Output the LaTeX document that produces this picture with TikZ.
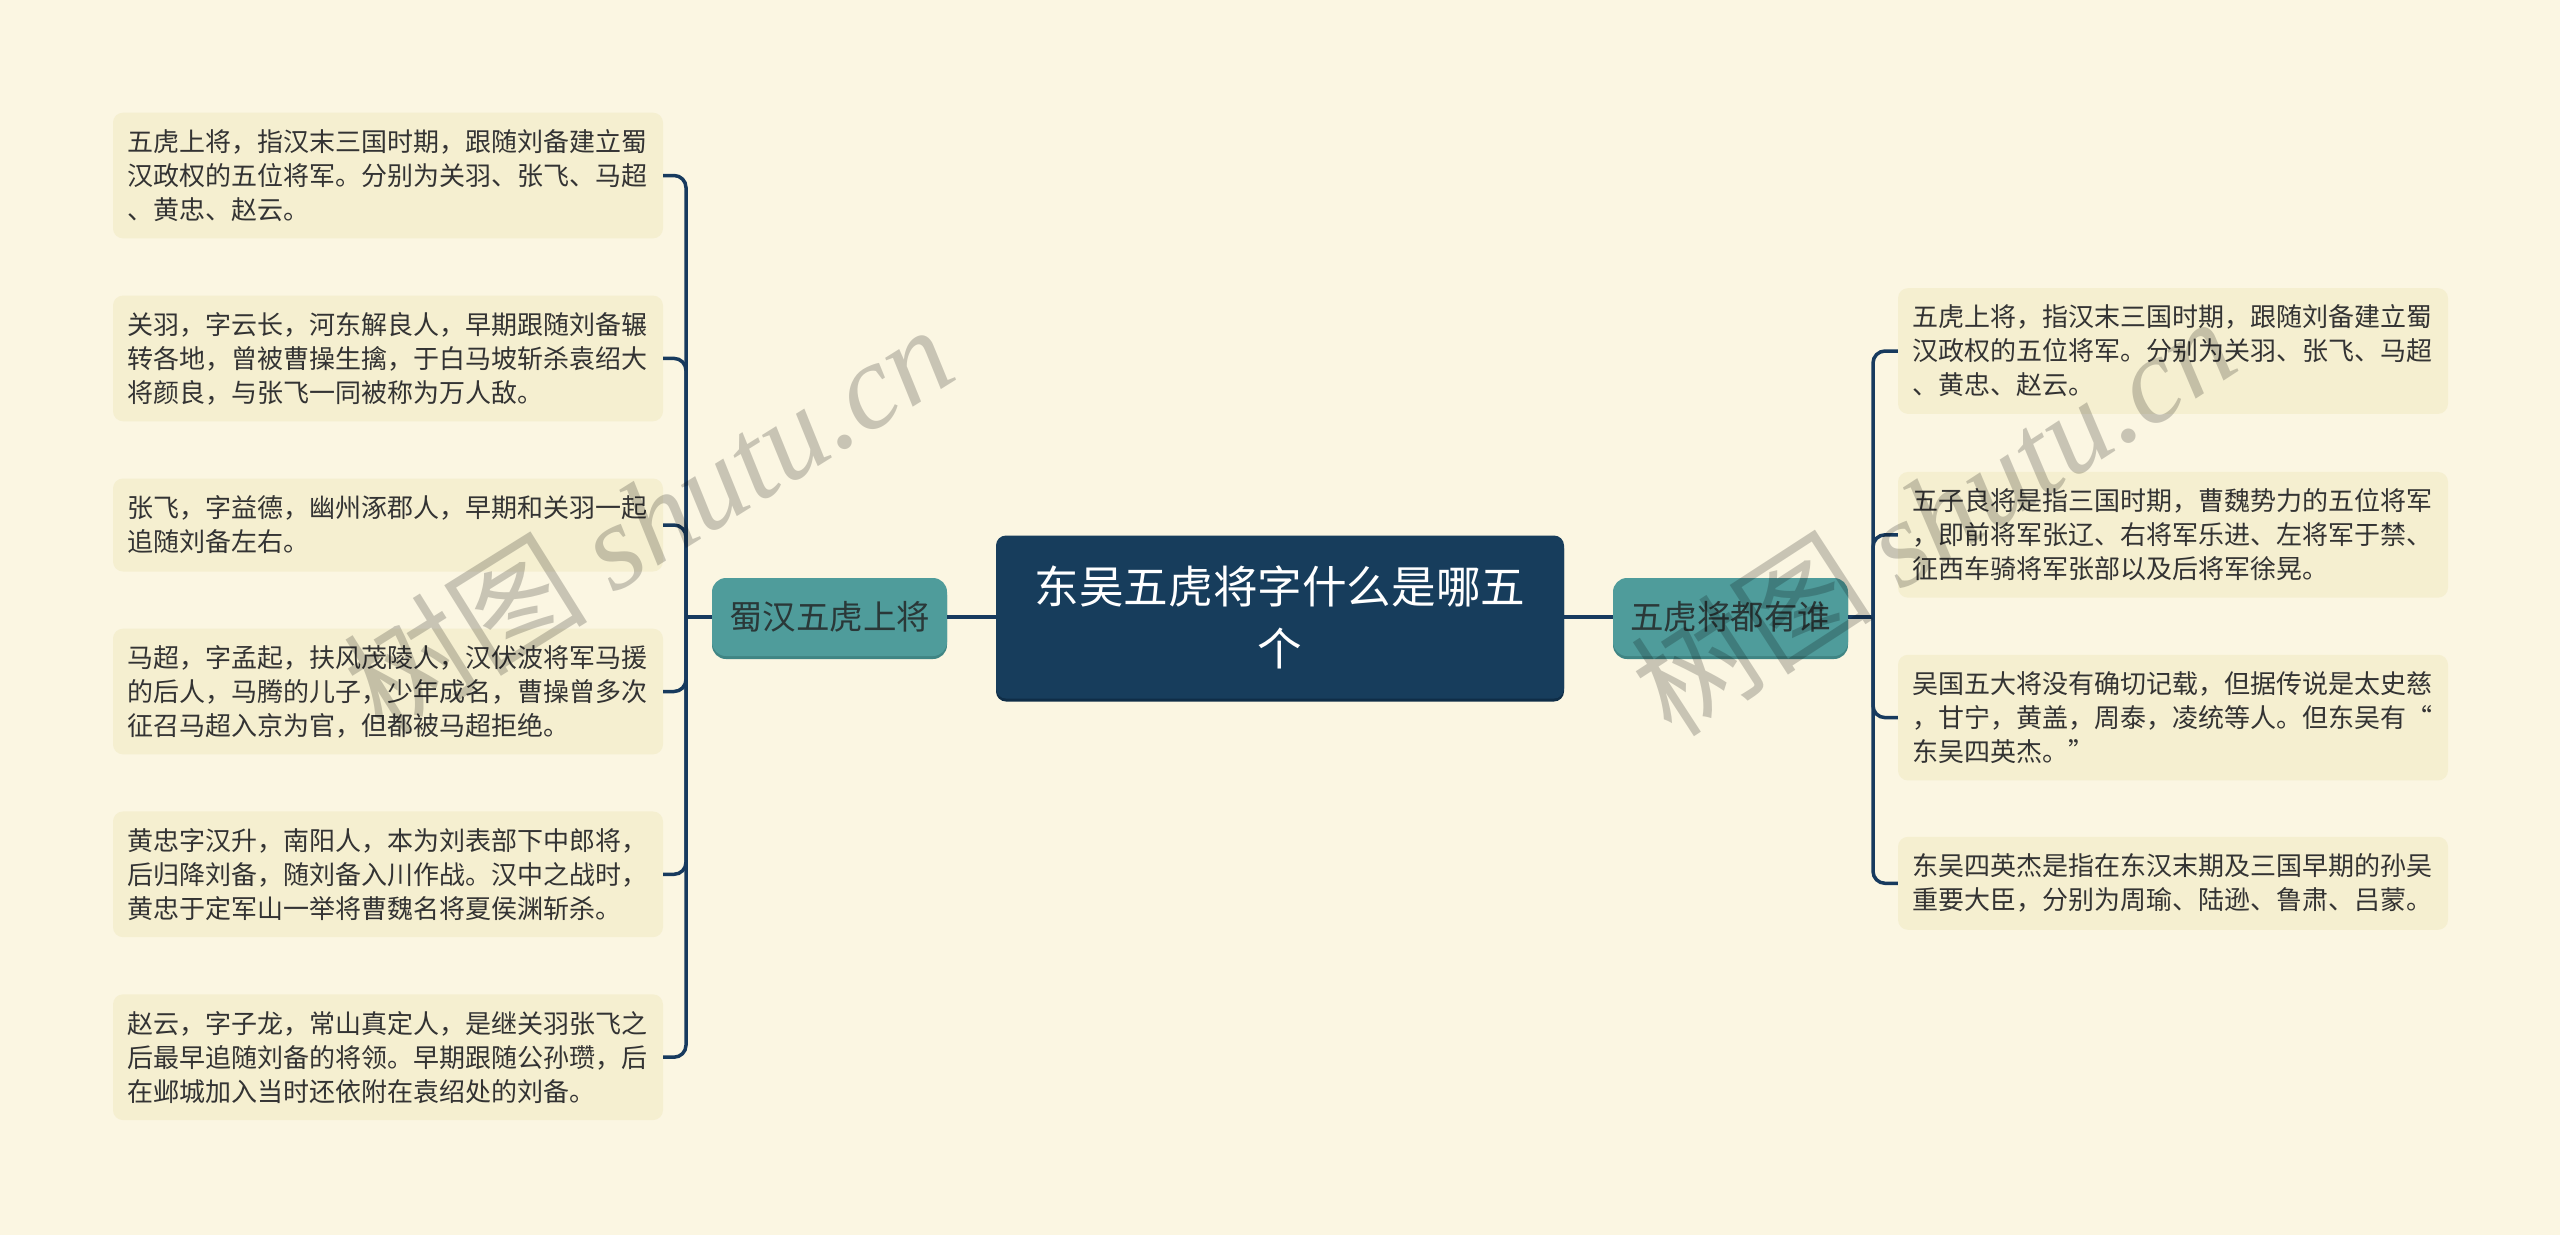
\documentclass[tikz,border=0pt]{standalone}
\usepackage{fontspec}
\setmainfont{Noto Sans CJK SC}
\newfontfamily\wmlatin{Liberation Serif}
\usetikzlibrary{shadows}
\definecolor{bg}{HTML}{FBF6E2}
\definecolor{leaffill}{HTML}{F5EFD0}
\definecolor{linec}{HTML}{173A5E}
\definecolor{centerfill}{HTML}{173D5C}
\definecolor{centershadow}{HTML}{0F2D47}
\definecolor{branchfill}{HTML}{4F9C9B}
\definecolor{branchshadow}{HTML}{3F8584}
\definecolor{txt}{HTML}{333333}
\definecolor{branchtxt}{HTML}{2A3838}
\begin{document}
\begin{tikzpicture}[x=1pt,y=-1pt,
  leaf/.style={fill=leaffill, rounded corners=10pt, text width=522pt, inner xsep=14pt, inner ysep=0pt,
    align=left, font=\fontsize{26}{34}\selectfont, text=txt, minimum width=550pt},
  three/.style={minimum height=125.7pt},
  two/.style={minimum height=93pt},
  centerbox/.style={fill=centerfill, rounded corners=10pt, minimum width=568pt, minimum height=163pt,
    text width=500pt, align=center, text=white, font=\fontsize{44.6}{62}\selectfont,
    drop shadow={shadow xshift=0pt, shadow yshift=-3pt, fill=centershadow, opacity=1}},
  branchbox/.style={fill=branchfill, rounded corners=14pt, minimum width=235pt, minimum height=78pt,
    text=branchtxt, font=\fontsize{33.5}{40}\selectfont, inner sep=0pt,
    drop shadow={shadow xshift=0pt, shadow yshift=-3pt, fill=branchshadow, opacity=1}},
  conn/.style={draw=linec, line width=3.5pt},
  wm/.style={text=black, text opacity=0.2, font=\fontsize{122}{126}\selectfont}
]
\fill[bg] (0,0) rectangle (2560,1235);
\useasboundingbox (0,0) rectangle (2560,1235);

% center and branches
\node[centerbox] (c) at (1280,617) {东吴五虎将字什么是哪五\\个};
\node[branchbox] (lb) at (829.5,617) {蜀汉五虎上将};
\node[branchbox] (rb) at (1730.5,617) {五虎将都有谁};

\coordinate (jl) at (686,617);
\coordinate (jr) at (1873,617);

% left leaves
\node[leaf,three] (l1) at (388,175.5) {五虎上将，指汉末三国时期，跟随刘备建立蜀\\汉政权的五位将军。分别为关羽、张飞、马超\\、黄忠、赵云。};
\node[leaf,three] (l2) at (388,358.4) {关羽，字云长，河东解良人，早期跟随刘备辗\\转各地，曾被曹操生擒，于白马坡斩杀袁绍大\\将颜良，与张飞一同被称为万人敌。};
\node[leaf,two] (l3) at (388,525) {张飞，字益德，幽州涿郡人，早期和关羽一起\\追随刘备左右。};
\node[leaf,three] (l4) at (388,691.5) {马超，字孟起，扶风茂陵人，汉伏波将军马援\\的后人，马腾的儿子，少年成名，曹操曾多次\\征召马超入京为官，但都被马超拒绝。};
\node[leaf,three] (l5) at (388,874.3) {黄忠字汉升，南阳人，本为刘表部下中郎将，\\后归降刘备，随刘备入川作战。汉中之战时，\\黄忠于定军山一举将曹魏名将夏侯渊斩杀。};
\node[leaf,three] (l6) at (388,1057.2) {赵云，字子龙，常山真定人，是继关羽张飞之\\后最早追随刘备的将领。早期跟随公孙瓒，后\\在邺城加入当时还依附在袁绍处的刘备。};

% right leaves
\node[leaf,three] (r1) at (2173,351) {五虎上将，指汉末三国时期，跟随刘备建立蜀\\汉政权的五位将军。分别为关羽、张飞、马超\\、黄忠、赵云。};
\node[leaf,three] (r2) at (2173,534.8) {五子良将是指三国时期，曹魏势力的五位将军\\，即前将军张辽、右将军乐进、左将军于禁、\\征西车骑将军张部以及后将军徐晃。};
\node[leaf,three] (r3) at (2173,717.6) {吴国五大将没有确切记载，但据传说是太史慈\\，甘宁，黄盖，周泰，凌统等人。但东吴有“\\东吴四英杰。”};
\node[leaf,two] (r4) at (2173,883.3) {东吴四英杰是指在东汉末期及三国早期的孙吴\\重要大臣，分别为周瑜、陆逊、鲁肃、吕蒙。};

% connectors
\draw[conn] (c.west) -- (lb.east);
\draw[conn] (c.east) -- (rb.west);
\draw[conn] (lb.west) -- (jl);
\draw[conn] (rb.east) -- (jr);
\foreach \n in {l1,l2,l3,l4,l5,l6} \draw[conn, rounded corners=12pt] (jl) |- (\n.east);
\foreach \n in {r1,r2,r3,r4} \draw[conn, rounded corners=12pt] (jr) |- (\n.west);

% watermarks
\node[wm, rotate=32] (wm1) at (648,518) {树图 {\wmlatin\itshape shutu.cn}};
\node[wm, rotate=33] (wm2) at (1933,515) {树图 {\wmlatin\itshape shutu.cn}};
\end{tikzpicture}
\end{document}
